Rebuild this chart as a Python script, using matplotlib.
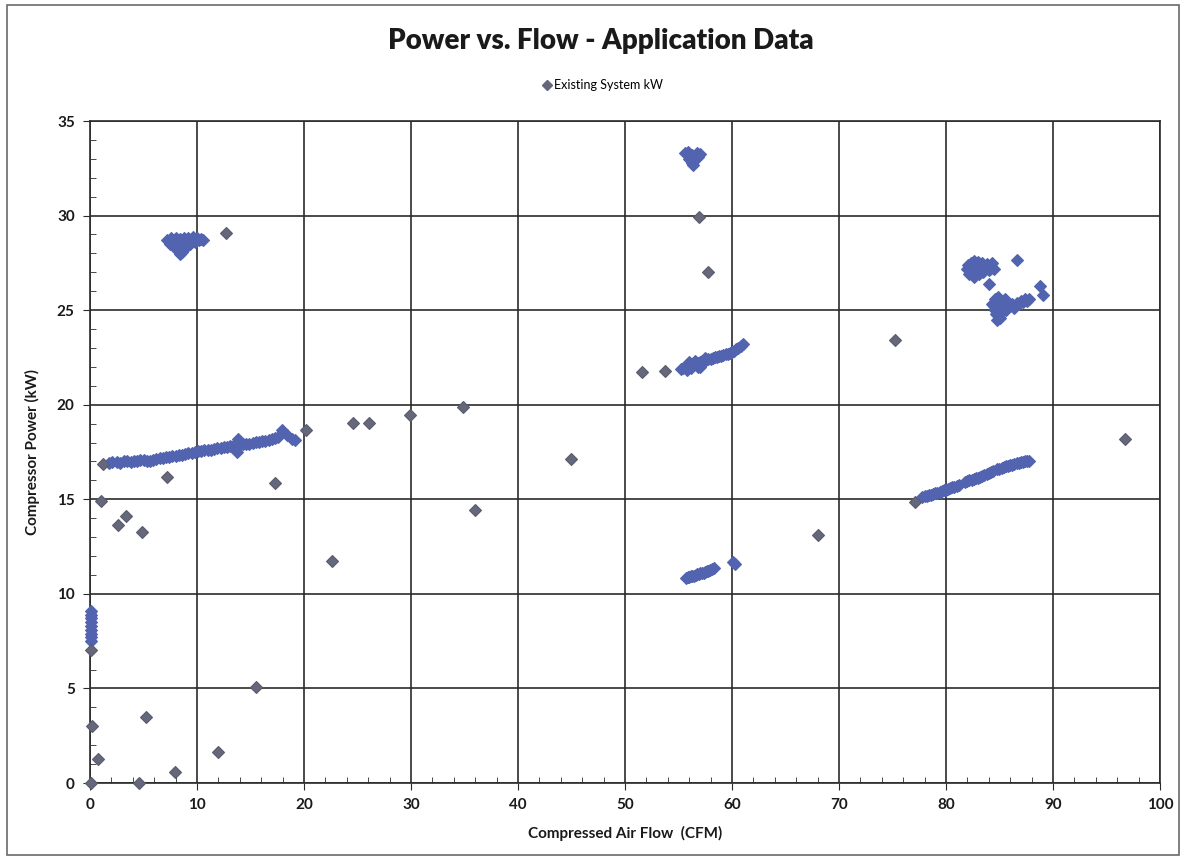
import matplotlib
matplotlib.use("Agg")
import matplotlib.pyplot as plt
from matplotlib.patches import Rectangle
from matplotlib.lines import Line2D
from matplotlib.ticker import MultipleLocator

plt.rcParams['font.family'] = ['Lato', 'DejaVu Sans']

# ---------------- data ----------------
# isolated readings (appear grey)
iso_x = [1.2, 1.0, 2.65, 3.35, 4.9, 7.2, 17.3, 22.6, 0.1, 0.2, 0.7, 0.1, 4.6, 5.2,
         7.9, 12.0, 15.5, 12.7, 20.2, 24.6, 26.1, 29.9, 34.9, 45.0, 36.0, 51.6,
         53.7, 56.9, 57.8, 75.2, 68.0, 96.7, 77.1]
iso_y = [16.85, 14.9, 13.65, 14.1, 13.25, 16.2, 15.85, 11.75, 7.05, 3.0, 1.25, 0.0,
         0.0, 3.47, 0.6, 1.66, 5.06, 29.1, 18.65, 19.05, 19.05, 19.45, 19.9, 17.15,
         14.45, 21.75, 21.8, 29.9, 27.0, 23.4, 13.1, 18.2, 14.87]

# dense clusters of readings (appear blue)
band_low_x = [1.8, 2.1, 2.5, 2.8, 3.2, 3.5, 3.8, 4.1, 4.4, 4.7, 5.0, 5.3, 5.6, 5.9,
              6.2, 6.5, 6.8, 7.1, 7.4, 7.7, 8.0, 8.3, 8.6, 8.9, 9.2, 9.5, 9.8, 10.1,
              10.4, 10.7, 11.0, 11.3, 11.6, 11.9, 12.2, 12.5, 12.8, 13.1, 13.4, 13.7,
              13.8, 14.0, 14.3, 14.6, 14.9, 15.2, 15.5, 15.8, 16.1, 16.4, 16.7, 17.0,
              17.3, 17.6, 17.9, 18.4, 18.9, 19.2]
band_low_y = [16.9, 16.95, 16.95, 16.9, 17.0, 17.05, 16.95, 17.0, 17.05, 17.1, 17.1,
              17.05, 17.05, 17.1, 17.15, 17.2, 17.2, 17.25, 17.25, 17.3, 17.3, 17.35,
              17.35, 17.4, 17.45, 17.45, 17.5, 17.55, 17.55, 17.6, 17.6, 17.6, 17.65,
              17.7, 17.7, 17.75, 17.75, 17.8, 17.8, 17.5, 18.2, 17.85, 17.9, 17.95,
              17.95, 18.0, 18.05, 18.05, 18.1, 18.1, 18.15, 18.2, 18.25, 18.3, 18.65,
              18.4, 18.2, 18.15]

zero_x = [0.1, 0.1, 0.1, 0.1, 0.1, 0.1, 0.1, 0.1, 0.1]
zero_y = [9.1, 8.9, 8.7, 8.5, 8.3, 8.1, 7.9, 7.7, 7.5]

top_left_x = [7.2, 7.6, 8.0, 8.4, 8.8, 9.2, 9.6, 10.0, 10.4, 10.6, 7.5, 7.9, 8.3,
              8.6, 8.9, 8.2, 9.0, 9.8, 8.4, 7.4, 7.8, 8.6, 9.4, 10.2, 8.1, 8.5, 8.7,
              9.3]
top_left_y = [28.7, 28.8, 28.8, 28.75, 28.8, 28.8, 28.85, 28.8, 28.75, 28.7, 28.5,
              28.4, 28.3, 28.05, 28.3, 28.55, 28.6, 28.6, 27.95, 28.65, 28.7, 28.7,
              28.7, 28.7, 28.2, 28.5, 28.2, 28.5]

mid_x = [55.2, 55.4, 55.6, 55.8, 56.0, 56.2, 56.4, 56.6, 56.8, 57.0, 57.2, 57.4,
         57.6, 57.8, 58.0, 58.2, 58.4, 58.6, 58.8, 59.0, 59.2, 59.4, 59.6, 59.8,
         60.0, 60.2, 60.4, 60.6, 60.8, 61.0, 56.0, 56.5, 57.0, 57.5, 55.8, 56.2,
         56.8]
mid_y = [21.9, 21.95, 22.0, 22.1, 22.05, 22.15, 22.1, 22.2, 22.2, 22.25, 22.3, 22.35,
         22.35, 22.4, 22.4, 22.45, 22.5, 22.5, 22.55, 22.6, 22.65, 22.7, 22.7, 22.75,
         22.8, 22.85, 22.95, 23.0, 23.1, 23.2, 22.25, 22.3, 22.0, 22.45, 21.85,
         21.95, 22.0]

low_mid_x = [55.7, 55.85, 56.0, 56.15, 56.3, 56.45, 56.6, 56.75, 56.9, 57.05, 57.2,
             57.35, 57.5, 57.65, 57.8, 57.95, 58.1, 58.3, 60.3, 60.1]
low_mid_y = [10.85, 10.9, 10.9, 10.95, 10.95, 10.95, 11.0, 11.05, 11.05, 11.1, 11.1,
             11.1, 11.15, 11.2, 11.2, 11.25, 11.3, 11.35, 11.6, 11.7]

top_mid_x = [55.6, 55.9, 56.3, 56.7, 57.0, 56.0, 56.4, 56.6, 56.4, 56.1, 56.5, 56.8,
             56.3]
top_mid_y = [33.3, 33.35, 33.2, 33.3, 33.25, 33.0, 32.9, 33.05, 32.65, 33.2, 33.1,
             33.1, 32.8]

right_up_x = [82.0, 82.3, 82.6, 83.0, 83.4, 83.8, 84.2, 84.5, 82.4, 82.8, 83.2, 83.6,
              82.2, 83.0, 84.0, 82.6, 84.0, 86.6, 82.5, 82.9, 83.3, 83.7, 84.1, 82.7,
              83.1, 83.5, 84.3, 82.1]
right_up_y = [27.2, 27.5, 27.6, 27.55, 27.5, 27.45, 27.35, 27.2, 27.0, 26.95, 27.1,
              27.2, 26.9, 27.3, 27.1, 26.75, 26.4, 27.66, 27.3, 27.4, 27.35, 27.3,
              27.2, 27.15, 26.9, 27.0, 27.5, 27.4]

right_mid_x = [84.3, 84.6, 84.9, 85.2, 85.5, 84.6, 85.0, 85.3, 84.8, 85.1, 85.8, 86.2,
               86.6, 87.0, 87.4, 87.8, 86.4, 85.6, 88.8, 89.1, 84.5, 84.9, 85.3, 85.0,
               84.7, 85.2, 85.5, 86.0, 86.8, 87.2, 87.6]
right_mid_y = [25.3, 25.6, 25.7, 25.5, 25.3, 25.0, 24.8, 25.1, 24.5, 24.6, 25.3, 25.35,
               25.4, 25.5, 25.6, 25.6, 25.1, 25.0, 26.3, 25.8, 25.2, 25.3, 25.4, 25.1,
               24.8, 24.9, 25.6, 25.2, 25.3, 25.45, 25.5]

right_low_x = [77.8, 78.0, 78.2, 78.4, 78.6, 78.8, 79.0, 79.2, 79.4, 79.6, 79.8, 80.0,
               80.2, 80.4, 80.6, 80.8, 81.0, 81.2, 81.8, 82.0, 82.2, 82.4, 82.6, 82.8,
               83.0, 83.2, 83.4, 83.6, 83.8, 84.0, 84.2, 84.4, 84.8, 85.0, 85.2, 85.4,
               85.6, 85.8, 86.0, 86.2, 86.4, 86.6, 86.8, 87.0, 87.2, 87.4, 87.6, 87.8]
right_low_y = [15.1, 15.15, 15.2, 15.25, 15.25, 15.3, 15.35, 15.35, 15.4, 15.45, 15.5,
               15.5, 15.55, 15.6, 15.65, 15.65, 15.7, 15.75, 15.9, 15.95, 16.0, 16.0,
               16.05, 16.1, 16.15, 16.2, 16.25, 16.3, 16.35, 16.4, 16.45, 16.5, 16.6,
               16.6, 16.65, 16.7, 16.75, 16.75, 16.8, 16.8, 16.85, 16.9, 16.9, 16.95,
               16.95, 17.0, 17.0, 17.0]

x_ticks = [0, 10, 20, 30, 40, 50, 60, 70, 80, 90, 100]
y_ticks = [0, 5, 10, 15, 20, 25, 30, 35]

# ---------------- figure ----------------
fig = plt.figure(figsize=(11.86, 8.60), dpi=100)
ax = fig.add_axes([0.0759, 0.0895, 0.978 - 0.0759, 0.8593 - 0.0895])

grey = '#65677a'
blue = '#5264b0'
ms = 6.5

cluster_sets = [(band_low_x, band_low_y), (zero_x, zero_y), (top_left_x, top_left_y),
                (mid_x, mid_y), (low_mid_x, low_mid_y), (top_mid_x, top_mid_y),
                (right_up_x, right_up_y), (right_mid_x, right_mid_y),
                (right_low_x, right_low_y)]
for cx, cy in cluster_sets:
    ax.plot(cx, cy, linestyle='none', marker='D', ms=ms, mfc=blue, mec=blue,
            mew=0.8, zorder=3, clip_on=False)
ax.plot(iso_x, iso_y, linestyle='none', marker='D', ms=ms, mfc=grey, mec='#5a5c6e',
        mew=0.8, zorder=4, clip_on=False)

ax.set_xlim(0, 100)
ax.set_ylim(0, 35)
ax.set_xticks(x_ticks)
ax.set_yticks(y_ticks)
ax.xaxis.set_minor_locator(MultipleLocator(2))
ax.yaxis.set_minor_locator(MultipleLocator(1))
ax.grid(True, which='major', color='#2b2b2b', linewidth=1.2)
ax.set_axisbelow(True)
for s in ax.spines.values():
    s.set_color('#2b2b2b')
    s.set_linewidth(1.2)
ax.tick_params(which='major', direction='out', length=5, color='#2b2b2b',
               labelsize=11, pad=6)
ax.tick_params(which='minor', direction='in', length=4, color='#2b2b2b')
for lab in ax.get_xticklabels() + ax.get_yticklabels():
    lab.set_fontweight('bold')
    lab.set_color('#1a1a1a')

ax.set_xlabel('Compressed Air Flow  (CFM)', fontsize=11, fontweight='bold',
              color='#1a1a1a', labelpad=10)
ax.set_ylabel('Compressor Power (kW)', fontsize=11, fontweight='bold',
              color='#1a1a1a', labelpad=12)

fig.text(0.507, 0.952, 'Power vs. Flow - Application Data', ha='center',
         va='center', fontsize=20, fontweight='heavy', color='#1a1a1a')

handle = Line2D([], [], linestyle='none', marker='D', ms=5, mfc=grey, mec=grey)
fig.legend([handle], ['Existing System kW'], loc='center', bbox_to_anchor=(0.508, 0.901),
           frameon=False, fontsize=9, handletextpad=0.2, handlelength=0.8)

fig.patches.append(Rectangle((0.006, 0.006), 0.988, 0.988, transform=fig.transFigure,
                             fill=False, edgecolor='#6a6a6a', linewidth=1.2))

fig.savefig('out.png', dpi=100, facecolor='white')
